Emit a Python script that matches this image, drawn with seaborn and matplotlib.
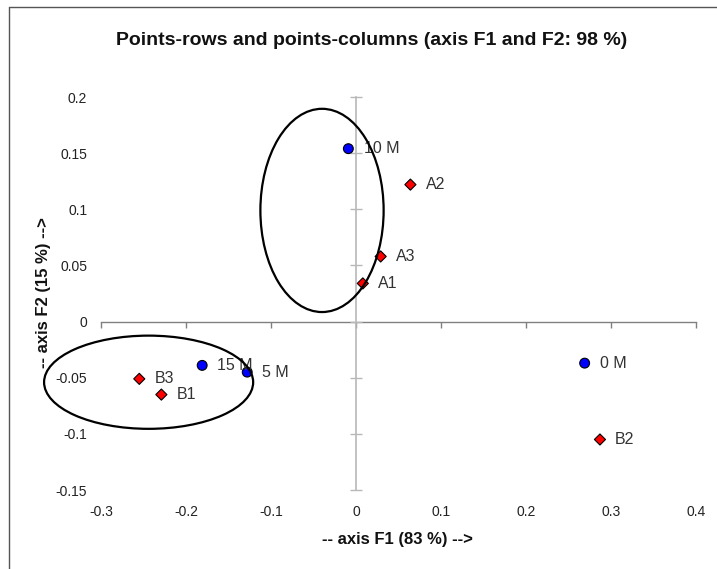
import matplotlib
matplotlib.use("Agg")
import matplotlib.pyplot as plt
import pandas as pd
import seaborn as sns
from matplotlib.patches import Ellipse
from matplotlib.lines import Line2D

# rows (red diamonds) and columns (blue circles)
row_labels = ["A1", "A2", "A3", "B1", "B2", "B3"]
row_f1 = [0.008, 0.064, 0.029, -0.229, 0.287, -0.255]
row_f2 = [0.034, 0.122, 0.058, -0.065, -0.105, -0.051]

col_labels = ["0 M", "5 M", "10 M", "15 M"]
col_f1 = [0.269, -0.128, -0.009, -0.181]
col_f2 = [-0.037, -0.045, 0.154, -0.039]

x_ticks = [-0.3, -0.2, -0.1, 0, 0.1, 0.2, 0.3, 0.4]
y_ticks = [-0.15, -0.1, -0.05, 0, 0.05, 0.1, 0.15, 0.2]

df = pd.DataFrame({
    "F1": col_f1 + row_f1,
    "F2": col_f2 + row_f2,
    "label": col_labels + row_labels,
    "kind": ["col"] * len(col_f1) + ["row"] * len(row_f1),
})

sns.set_style("white")
plt.rcParams["font.family"] = ["Liberation Sans", "DejaVu Sans"]

fig = plt.figure(figsize=(7.17, 5.69), dpi=100)
ax = fig.add_axes([0.1409, 0.1388, 0.8298, 0.6907])

sns.scatterplot(
    data=df, x="F1", y="F2", hue="kind", style="kind",
    palette={"col": "#0000ff", "row": "#ff0000"},
    markers={"col": "o", "row": "D"},
    size="kind", sizes={"col": 50, "row": 32},
    edgecolor="black", linewidth=0.8, legend=False, zorder=5, ax=ax,
)

for _, r in df.iterrows():
    ax.annotate(r["label"], (r["F1"], r["F2"]), xytext=(11, 0),
                textcoords="offset points", ha="left", va="center",
                fontsize=11.5, color="#333333", zorder=6)

ax.set_xlim(x_ticks[0], x_ticks[-1])
ax.set_ylim(y_ticks[0], y_ticks[-1])
ax.set_xticks(x_ticks)
ax.set_yticks(y_ticks)
ax.set_xticklabels([f"{v:g}" for v in x_ticks])
ax.set_yticklabels([f"{v:g}" for v in y_ticks])
ax.tick_params(axis="x", length=0, pad=11, labelsize=10, labelcolor="#222222")
ax.tick_params(axis="y", length=0, pad=10, labelsize=10, labelcolor="#222222")
for s in ax.spines.values():
    s.set_visible(False)
ax.set_xlabel("")
ax.set_ylabel("")

# axes crossing at the origin
sx = ax.secondary_xaxis(0, transform=ax.transData)
sx.set_xticks(x_ticks)
sx.tick_params(axis="x", direction="out", length=4, width=1,
               color="#808080", labelbottom=False)
sx.spines["bottom"].set_color("#808080")
sx.spines["bottom"].set_linewidth(1)

sy = ax.secondary_yaxis(0, transform=ax.transData)
sy.set_yticks(y_ticks)
sy.tick_params(axis="y", direction="inout", length=8, width=1,
               color="#b8b8b8", labelleft=False)
sy.spines["left"].set_color("#b8b8b8")
sy.spines["left"].set_linewidth(1.2)

# group ellipses
for cx, cy, w, h in [(-0.04, 0.099, 0.145, 0.181), (-0.244, -0.054, 0.246, 0.083)]:
    ax.add_patch(Ellipse((cx, cy), w, h, fill=False, edgecolor="black",
                         linewidth=1.6, clip_on=False, zorder=7))

fig.text(0.519, 0.929, "Points-rows and points-columns (axis F1 and F2: 98 %)",
         ha="center", va="center", fontsize=14, fontweight="bold", color="#111111")
fig.text(0.554, 0.051, "-- axis F1 (83 %) -->", ha="center", va="center",
         fontsize=12, fontweight="bold", color="#111111")
fig.text(0.061, 0.485, "-- axis F2 (15 %) -->", ha="center", va="center",
         rotation=90, fontsize=12, fontweight="bold", color="#111111")

# chart frame (left and top edges)
fig.add_artist(Line2D([0.0126, 0.0126], [0.0, 0.988], transform=fig.transFigure,
                      color="#555555", linewidth=1))
fig.add_artist(Line2D([0.0126, 1.0], [0.988, 0.988], transform=fig.transFigure,
                      color="#555555", linewidth=1))

fig.savefig("out.png", dpi=100)
